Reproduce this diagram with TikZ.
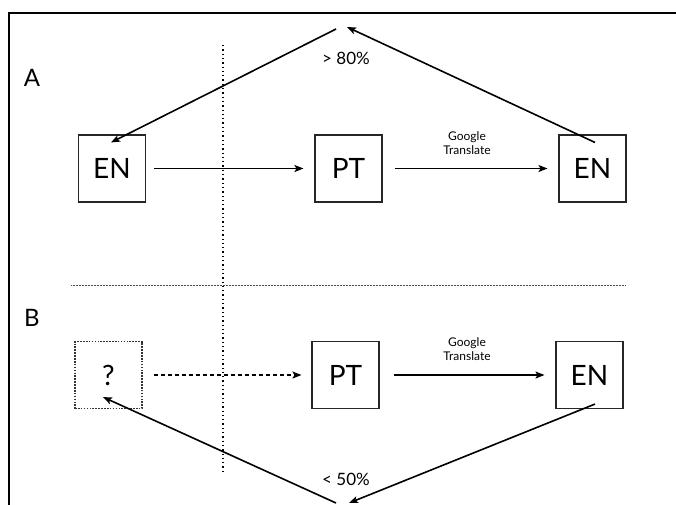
\documentclass[tikz,border=0pt]{standalone}
\usepackage{fontspec}
\setmainfont{Lato}
\usetikzlibrary{arrows.meta}
\begin{document}
\begin{tikzpicture}[x=1pt,y=-1pt,
  box/.style={draw=black!85,line width=1.1pt,minimum width=67pt,minimum height=67pt,inner sep=0pt,font=\fontsize{28}{30}\selectfont},
  qbox/.style={box,draw=black!80,dash pattern=on 1.6pt off 1.3pt,line width=1.1pt},
  arr/.style={line width=1.6pt,-{Stealth[length=9pt,width=7pt,inset=2pt]}},
  darr/.style={arr,dash pattern=on 4pt off 3pt},
  lbl/.style={font=\fontsize{24}{26}\selectfont},
  pct/.style={font=\fontsize{17}{19}\selectfont},
  gt/.style={font=\fontsize{12}{14}\selectfont,align=center}]
\useasboundingbox (0,0) rectangle (676,504);
\fill[white] (0,0) rectangle (676,504);
% frame
\draw[line width=2pt] (9,505) -- (9,13) -- (677,13);
% separators
\draw[line width=1.3pt,dash pattern=on 1.3pt off 3pt] (223,45) -- (223,474);
\draw[line width=0.5pt,black!70,dash pattern=on 0.6pt off 0.9pt] (71,285) -- (625,285);
% labels
\node[lbl] (la) at (32,78) {A};
\node[lbl] (lb) at (32,318) {B};
% row A
\node[box] (en1) at (112,168.5) {EN};
\node[box] (pt1) at (348.5,168.5) {PT};
\node[box] (en2) at (592.5,168.5) {EN};
\draw[arr] ([xshift=8pt]en1.east) -- ([xshift=-11pt]pt1.west);
\draw[arr] ([xshift=12pt]pt1.east) -- ([xshift=-11pt]en2.west);
\node[gt] (gt1) at (467,143) {Google\\Translate};
\coordinate (topl) at (336,29);
\coordinate (topr) at (347,27);
\draw[arr] (topl) -- ([shift={(-1pt,-8pt)}]en1.north);
\draw[arr] ([shift={(2.5pt,-8pt)}]en2.north) -- (topr);
\node[pct] (p80) at (346,58) {> 80\%};
% row B
\node[qbox] (q) at (108.5,375) {?};
\node[box] (pt2) at (345.5,375) {PT};
\node[box] (en3) at (589.5,375) {EN};
\draw[darr] ([xshift=11pt]q.east) -- ([xshift=-10pt]pt2.west);
\draw[arr] ([xshift=14pt]pt2.east) -- ([xshift=-11pt]en3.west);
\node[gt] (gt2) at (467,349) {Google\\Translate};
\coordinate (botl) at (336,503);
\coordinate (botr) at (349,503);
\draw[arr] ([shift={(5.5pt,5pt)}]en3.south) -- (botr);
\draw[arr] (botl) -- ([shift={(-5.5pt,12pt)}]q.south);
\node[pct] (p50) at (346,479) {< 50\%};
\end{tikzpicture}
\end{document}
